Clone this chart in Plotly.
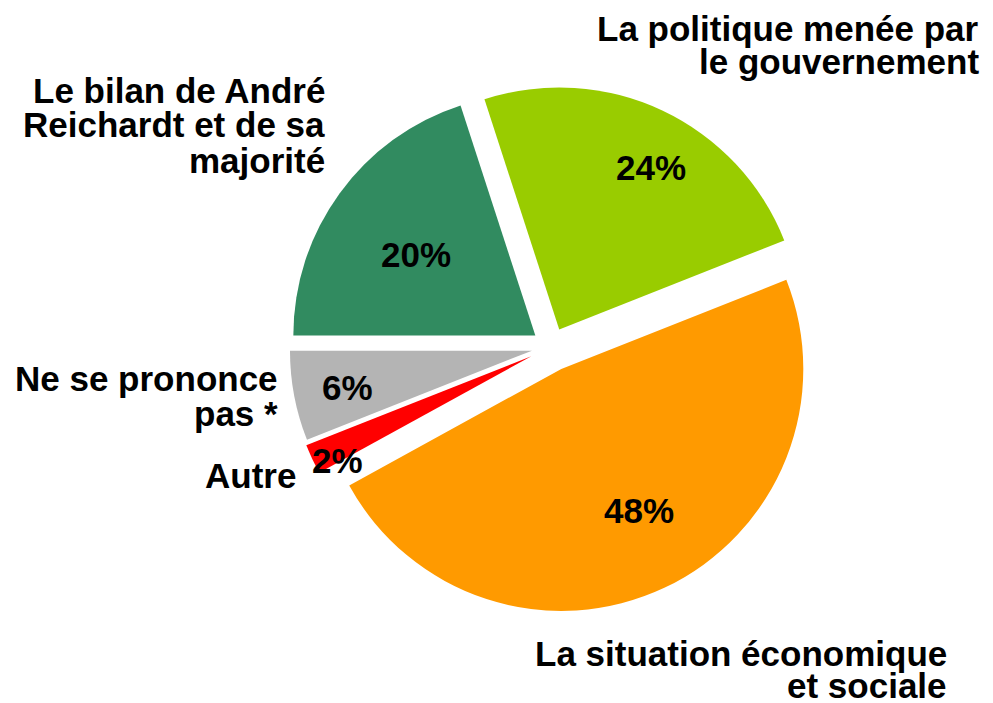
import plotly.graph_objects as go

# ---- data ----
categories = [
    "Le bilan de André Reichardt et de sa majorité",
    "La politique menée par le gouvernement",
    "La situation économique et sociale",
    "Autre",
    "Ne se prononce pas *",
]
label_lines = [
    ["Le bilan de André", "Reichardt et de sa", "majorité"],
    ["La politique menée par", "le gouvernement"],
    ["La situation économique", "et sociale"],
    ["Autre"],
    ["Ne se prononce", "pas *"],
]
values = [20, 24, 48, 2, 6]

# ---- style ----
colors = ["#318b60", "#99cc00", "#ff9a00", "#ff0000", "#b4b4b4"]
pulls = [0.08, 0.08, 0.10, 0.09, 0.08]

W, H = 993, 703
OFF = 8  # page body margin
FONT = "Liberation Sans, Arial, sans-serif"

def px(x):
    return (x - OFF) / W

def py(y):
    return 1 - (y - OFF) / H

fig = go.Figure(
    go.Pie(
        labels=categories,
        values=values,
        sort=False,
        direction="clockwise",
        rotation=-90,
        pull=pulls,
        marker=dict(colors=colors, line=dict(width=0)),
        textinfo="none",
        hoverinfo="label+percent",
        domain=dict(x=[px(284.8), px(817.2)], y=[py(613.2), py(80.8)]),
        showlegend=False,
    )
)

# label line anchors (right edge, vertical middle) in page pixels
label_pos = [
    (327, [90, 125, 161]),
    (981, [28, 62]),
    (949, [653, 685]),
    (298, [475]),
    (280, [378, 413]),
]
pct_pos = [(416, 254), (651, 167), (639, 510), (337, 460), (347, 387)]

annotations = []
for lines, (xr, ys) in zip(label_lines, label_pos):
    for line, yy in zip(lines, ys):
        annotations.append(dict(
            text=line, x=px(xr), y=py(yy), xref="paper", yref="paper",
            xanchor="right", yanchor="middle", showarrow=False,
            font=dict(family=FONT, size=35, color="black", weight=700),
        ))
total = sum(values)
for v, (xc, yc) in zip(values, pct_pos):
    annotations.append(dict(
        text=f"{round(100 * v / total)}%", x=px(xc), y=py(yc),
        xref="paper", yref="paper", xanchor="center", yanchor="middle",
        showarrow=False,
        font=dict(family=FONT, size=35, color="black", weight=700),
    ))

fig.update_layout(
    width=W, height=H,
    margin=dict(l=0, r=0, t=0, b=0),
    paper_bgcolor="white", plot_bgcolor="white",
    annotations=annotations,
)

fig.write_html("out.html")
